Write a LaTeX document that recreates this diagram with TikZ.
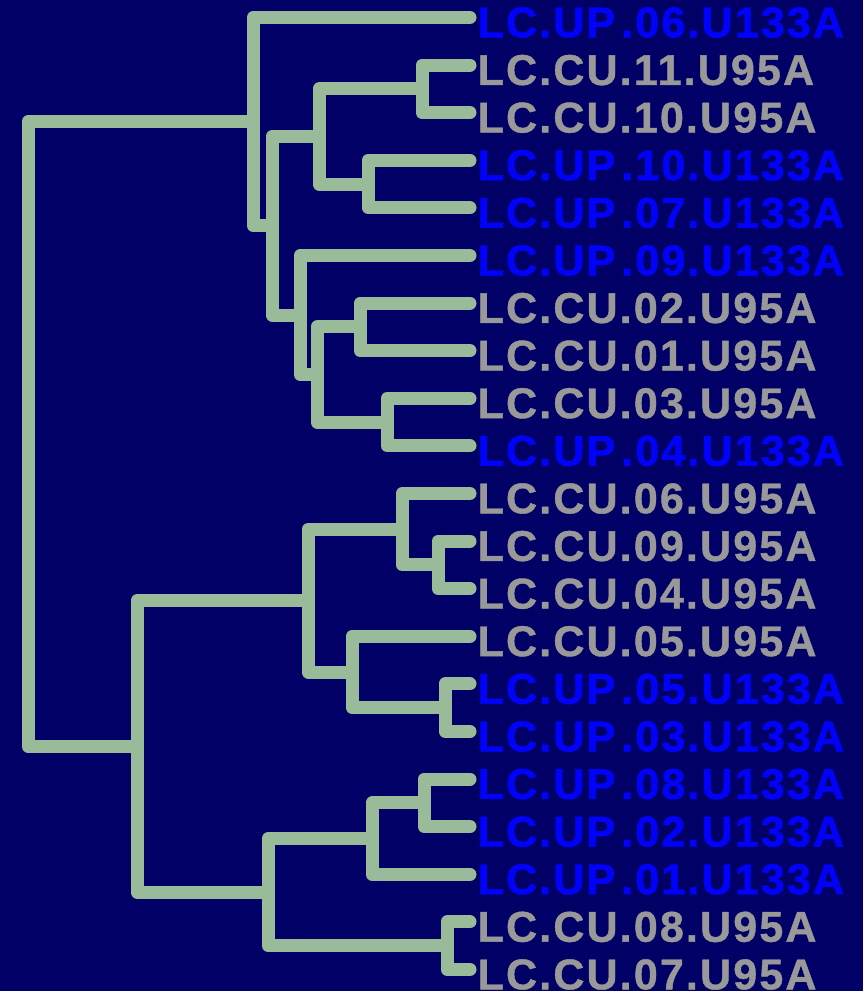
\documentclass[tikz,border=0pt]{standalone}
\usepackage{fontspec}
\usetikzlibrary{calc}
\newfontfamily\lblfont[LetterSpace=5,FakeBold=1]{Liberation Sans}
\definecolor{bgnavy}{HTML}{000066}
\definecolor{branch}{HTML}{99BB99}
\definecolor{grayl}{HTML}{999999}
\definecolor{bluel}{HTML}{0000FF}
\newcommand\upgap{\kern6pt}
\tikzset{
  br/.style={draw=branch, line width=13pt, line cap=round, line join=round},
  lbl/.style={anchor=base west, inner sep=0pt, font=\lblfont\bfseries\fontsize{43}{43}\selectfont},
  cu/.style={lbl, text=grayl},
  up/.style={lbl, text=bluel}
}
\begin{document}
\begin{tikzpicture}[x=1pt,y=-1pt]
\fill[bgnavy] (0,0) rectangle (863,991);
\useasboundingbox (0,0) rectangle (863,991);
% leaves
\foreach \i/\y in {0/17.5,1/65.1,2/112.7,3/160.3,4/207.9,5/255.5,6/303.1,7/350.7,8/398.3,9/445.9,10/493.5,11/541.1,12/588.7,13/636.3,14/683.9,15/731.5,16/779.1,17/826.7,18/874.3,19/921.9,20/969.5}
  \coordinate (l\i) at (470,\y);
% labels
\node[up] (t0)  at ($(l0)+(7.5,19.8)$)  {LC.UP\upgap.06.U133A};
\node[cu] (t1)  at ($(l1)+(7.5,19.8)$)  {LC.CU.11.U95A};
\node[cu] (t2)  at ($(l2)+(7.5,19.8)$)  {LC.CU.10.U95A};
\node[up] (t3)  at ($(l3)+(7.5,19.8)$)  {LC.UP\upgap.10.U133A};
\node[up] (t4)  at ($(l4)+(7.5,19.8)$)  {LC.UP\upgap.07.U133A};
\node[up] (t5)  at ($(l5)+(7.5,19.8)$)  {LC.UP\upgap.09.U133A};
\node[cu] (t6)  at ($(l6)+(7.5,19.8)$)  {LC.CU.02.U95A};
\node[cu] (t7)  at ($(l7)+(7.5,19.8)$)  {LC.CU.01.U95A};
\node[cu] (t8)  at ($(l8)+(7.5,19.8)$)  {LC.CU.03.U95A};
\node[up] (t9)  at ($(l9)+(7.5,19.8)$)  {LC.UP\upgap.04.U133A};
\node[cu] (t10) at ($(l10)+(7.5,19.8)$) {LC.CU.06.U95A};
\node[cu] (t11) at ($(l11)+(7.5,19.8)$) {LC.CU.09.U95A};
\node[cu] (t12) at ($(l12)+(7.5,19.8)$) {LC.CU.04.U95A};
\node[cu] (t13) at ($(l13)+(7.5,19.8)$) {LC.CU.05.U95A};
\node[up] (t14) at ($(l14)+(7.5,19.8)$) {LC.UP\upgap.05.U133A};
\node[up] (t15) at ($(l15)+(7.5,19.8)$) {LC.UP\upgap.03.U133A};
\node[up] (t16) at ($(l16)+(7.5,19.8)$) {LC.UP\upgap.08.U133A};
\node[up] (t17) at ($(l17)+(7.5,19.8)$) {LC.UP\upgap.02.U133A};
\node[up] (t18) at ($(l18)+(7.5,19.8)$) {LC.UP\upgap.01.U133A};
\node[cu] (t19) at ($(l19)+(7.5,19.8)$) {LC.CU.08.U95A};
\node[cu] (t20) at ($(l20)+(7.5,19.8)$) {LC.CU.07.U95A};
% internal nodes
\coordinate (nE) at (422,88.9);
\coordinate (nF) at (368,184.1);
\coordinate (nC) at (319,136.5);
\coordinate (nH) at (360,326.9);
\coordinate (nI) at (387,422.1);
\coordinate (nG) at (317,374.5);
\coordinate (nD) at (300,315);
\coordinate (nB) at (272,225.75);
\coordinate (nA) at (253,121.625);
\coordinate (nN) at (438,564.9);
\coordinate (nL) at (402,529.2);
\coordinate (nO) at (445,707.7);
\coordinate (nM) at (352,672);
\coordinate (nK) at (308,600.6);
\coordinate (nS) at (424,802.9);
\coordinate (nQ) at (372,838.6);
\coordinate (nR) at (447,945.7);
\coordinate (nP) at (268,892.15);
\coordinate (nJ) at (137,746.375);
\coordinate (nRoot) at (28,434);
% branches
\draw[br] (l1) -| (nE) |- (l2);
\draw[br] (l3) -| (nF) |- (l4);
\draw[br] (nE) -| (nC) |- (nF);
\draw[br] (l6) -| (nH) |- (l7);
\draw[br] (l8) -| (nI) |- (l9);
\draw[br] (nH) -| (nG) |- (nI);
\draw[br] (l5) -| (nD) |- (nG);
\draw[br] (nC) -| (nB) |- (nD);
\draw[br] (l0) -| (nA) |- (nB);
\draw[br] (l11) -| (nN) |- (l12);
\draw[br] (l10) -| (nL) |- (nN);
\draw[br] (l14) -| (nO) |- (l15);
\draw[br] (l13) -| (nM) |- (nO);
\draw[br] (nL) -| (nK) |- (nM);
\draw[br] (l16) -| (nS) |- (l17);
\draw[br] (nS) -| (nQ) |- (l18);
\draw[br] (l19) -| (nR) |- (l20);
\draw[br] (nQ) -| (nP) |- (nR);
\draw[br] (nK) -| (nJ) |- (nP);
\draw[br] (nA) -| (nRoot) |- (nJ);
\end{tikzpicture}
\end{document}
